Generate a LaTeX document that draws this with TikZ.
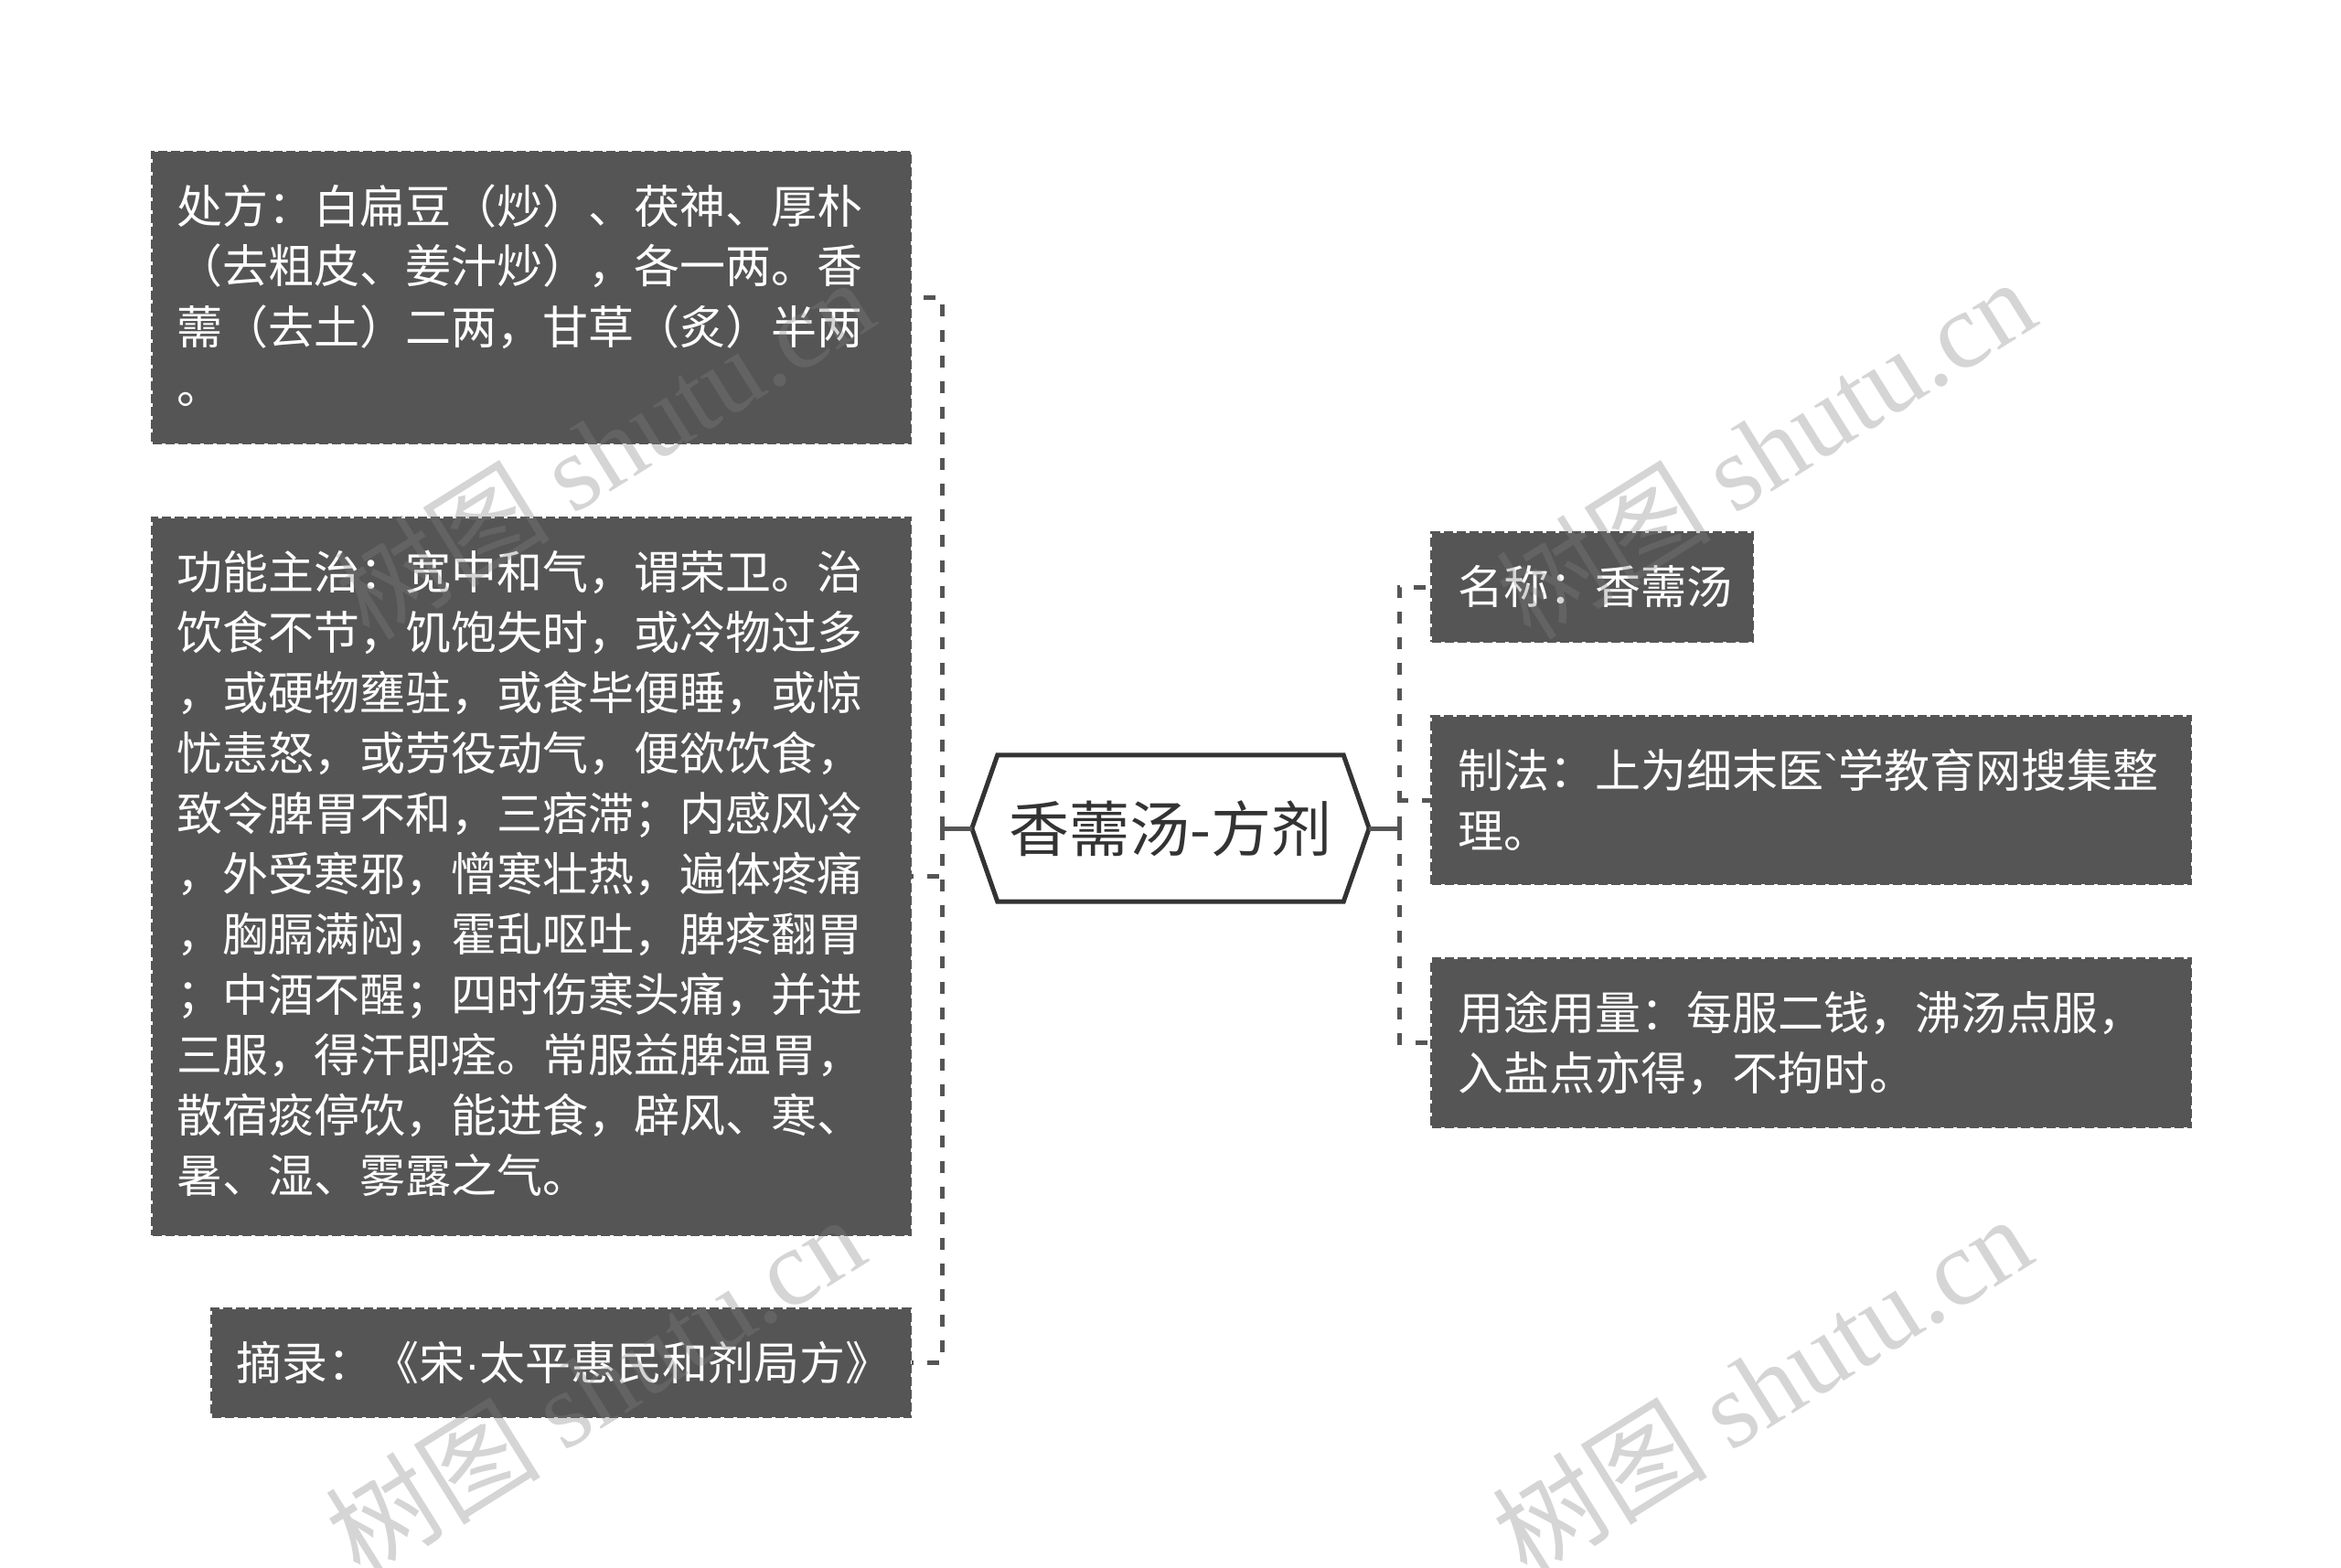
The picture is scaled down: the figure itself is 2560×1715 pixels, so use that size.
\documentclass[tikz,border=0pt]{standalone}
\usepackage{fontspec}
\usetikzlibrary{backgrounds}
\newfontfamily\cjkf{Noto Sans CJK SC}
\newfontfamily\wmserif{Liberation Serif}
\newfontfamily\latsans{Liberation Sans}
\definecolor{boxgray}{HTML}{555555}
\definecolor{hexline}{HTML}{333333}
\definecolor{wmgray}{HTML}{808080}
\begin{document}
\begin{tikzpicture}[x=1pt,y=-1pt,
  box/.style={draw=boxgray, fill=boxgray, line width=3pt, dash pattern=on 10pt off 4pt, inner sep=0pt, anchor=north west},
  boxtext/.style={anchor=base west, text=white, font=\cjkf\fontsize{50}{66}\selectfont, inner sep=0pt},
  boxpara/.style={boxtext, align=left, text width=790pt},
  conn/.style={draw=boxgray, line width=5pt, dash pattern=on 13pt off 15pt},
  hubline/.style={draw=boxgray, line width=5pt},
  wm/.style={text=wmgray, text opacity=0.33, font=\cjkf\fontsize{118}{118}\selectfont, inner sep=0pt, rotate=32}
]
\useasboundingbox (0,0) rectangle (2560,1715);

% central node
\node[font=\cjkf\fontsize{66}{66}\selectfont, text=hexline, minimum width=378pt, minimum height=160pt, inner sep=0pt] (root) at (1280,906) {香薷汤-方剂};
\coordinate (rootL) at ([xshift=-28pt]root.west);
\coordinate (rootR) at ([xshift=28pt]root.east);
\begin{pgfonlayer}{background}
\draw[hexline, line width=5pt, fill=white, line join=miter] (root.north west) -- (root.north east) -- (rootR) -- (root.south east) -- (root.south west) -- (rootL) -- cycle;
\end{pgfonlayer}

% left boxes
\node[box, minimum width=829pt, minimum height=318pt] (b1) at (165,165) {};
\node[boxpara] (t1) at ([shift={(28pt,-79pt)}]b1.north west) {处方：白扁豆（炒）、茯神、厚朴\\（去粗皮、姜汁炒），各一两。香\\薷（去土）二两，甘草（炙）半两\\。};

\node[box, minimum width=829pt, minimum height=784pt] (b2) at (165,565) {};
\node[boxpara] (t2) at ([shift={(28pt,-79pt)}]b2.north west) {功能主治：宽中和气，谓荣卫。治\\饮食不节，饥饱失时，或冷物过多\\，或硬物壅驻，或食毕便睡，或惊\\忧恚怒，或劳役动气，便欲饮食，\\致令脾胃不和，三痞滞；内感风冷\\，外受寒邪，憎寒壮热，遍体疼痛\\，胸膈满闷，霍乱呕吐，脾疼翻胃\\；中酒不醒；四时伤寒头痛，并进\\三服，得汗即痊。常服益脾温胃，\\散宿痰停饮，能进食，辟风、寒、\\暑、湿、雾露之气。};

\node[box, minimum width=764pt, minimum height=118pt] (b3) at (230,1430) {};
\node[boxtext] (t3) at ([shift={(28pt,-79pt)}]b3.north west) {摘录：《宋{\latsans ·}太平惠民和剂局方》};

% right boxes
\node[box, minimum width=351pt, minimum height=119pt] (r1) at (1564,581) {};
\node[boxtext] (s1) at ([shift={(30pt,-79pt)}]r1.north west) {名称：香薷汤};

\node[box, minimum width=830pt, minimum height=183pt] (r2) at (1564,782) {};
\node[boxpara] (s2) at ([shift={(30pt,-79pt)}]r2.north west) {制法：上为细末医{\latsans `}学教育网搜集整\\理。};

\node[box, minimum width=830pt, minimum height=184pt] (r3) at (1564,1047) {};
\node[boxpara] (s3) at ([shift={(30pt,-79pt)}]r3.north west) {用途用量：每服二钱，沸汤点服，\\入盐点亦得，不拘时。};

% connectors
\coordinate (JL) at (1030,906);
\coordinate (JR) at (1530,906);
\draw[hubline] (rootL) -- (JL);
\draw[hubline] (rootR) -- (JR);
\draw[conn] (JL) |- (b1.east);
\draw[conn] (JL) |- (b2.east);
\draw[conn] (JL) |- (b3.east);
\draw[conn] (JR) |- (r1.west);
\draw[conn] (JR) |- (r2.west);
\draw[conn] (JR) |- (r3.west);

% watermarks
\node[wm] (w1) at (660,490) {树图 {\wmserif shutu.cn}};
\node[wm] (w2) at (1930,490) {树图 {\wmserif shutu.cn}};
\node[wm] (w3) at (650,1515) {树图 {\wmserif shutu.cn}};
\node[wm] (w4) at (1926,1515) {树图 {\wmserif shutu.cn}};
\end{tikzpicture}
\end{document}
